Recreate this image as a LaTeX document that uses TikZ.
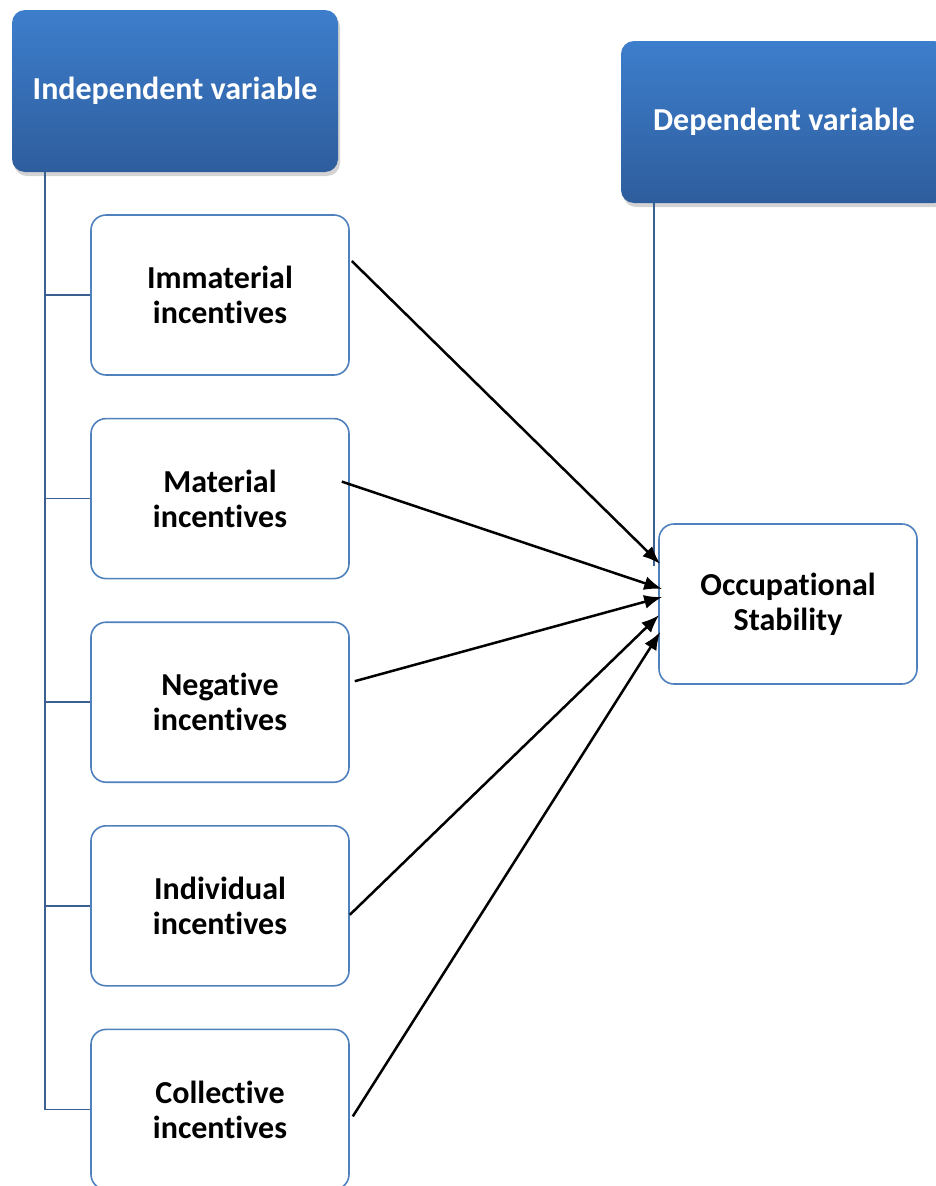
\documentclass[tikz,border=0pt]{standalone}
\usepackage{fontspec}
\setmainfont{Carlito}[Ligatures=NoCommon]
\usetikzlibrary{positioning, arrows.meta, shadows}
\definecolor{hdrtop}{RGB}{61, 126, 204}
\definecolor{hdrbot}{RGB}{46, 93, 157}
\definecolor{boxblue}{RGB}{79, 129, 189}
\definecolor{treeblue}{RGB}{58, 96, 145}

\begin{document}
\begin{tikzpicture}[
    x=1pt, y=-1pt,
    node distance=42pt,
    header/.style={rectangle, rounded corners=13pt, draw=none,
                   top color=hdrtop, bottom color=hdrbot,
                   minimum width=326pt, minimum height=162pt,
                   text=white, font=\fontsize{32}{35}\selectfont\bfseries,
                   drop shadow={opacity=0.35, shadow xshift=2pt, shadow yshift=-4pt}},
    box/.style={rectangle, draw=boxblue, line width=1.6pt, rounded corners=15pt,
                minimum width=258pt, minimum height=160pt, align=center,
                fill=white, font=\fontsize{32}{35}\selectfont\bfseries},
    tree/.style={draw=treeblue, line width=1.6pt},
    arrow/.style={-{Latex[length=18pt, width=14pt]}, line width=2.5pt, color=black}
  ]
    \useasboundingbox (0,0) rectangle (935,1186);

    % headers
    \node[header] (indep) at (175,91)  {Independent variable};
    \node[header] (dep)   at (784,122) {Dependent variable};

    % incentive boxes
    \node[box] (imm) at (220,295) {Immaterial\\incentives};
    \node[box, below=of imm] (mat) {Material\\incentives};
    \node[box, below=of mat] (neg) {Negative\\incentives};
    \node[box, below=of neg] (ind) {Individual\\incentives};
    \node[box, below=of ind] (col) {Collective\\incentives};

    \node[box] (occ) at (788,604) {Occupational\\Stability};

    % tree lines
    \coordinate (trunk) at (45,172);
    \foreach \n in {imm, mat, neg, ind, col}
      \draw[tree] (trunk) |- (\n.west);
    \coordinate (dtop) at (654,203);
    \draw[tree] (dtop) -- (dtop |- 0,566);

    % arrows
    \draw[arrow] ([xshift=2pt, yshift=34pt]imm.east) -- ([xshift=2pt, yshift=40pt]occ.west);
    \draw[arrow] ([xshift=-8pt, yshift=17pt]mat.east) -- ([xshift=4pt, yshift=15pt]occ.west);
    \draw[arrow] ([xshift=5pt, yshift=21pt]neg.east)  -- ([xshift=4pt, yshift=7pt]occ.west);
    \draw[arrow] ([yshift=-9pt]ind.east) -- ([xshift=1pt, yshift=-11pt]occ.west);
    \draw[arrow] ([xshift=3pt, yshift=-7pt]col.east)  -- ([xshift=2pt, yshift=-28pt]occ.west);
\end{tikzpicture}
\end{document}
